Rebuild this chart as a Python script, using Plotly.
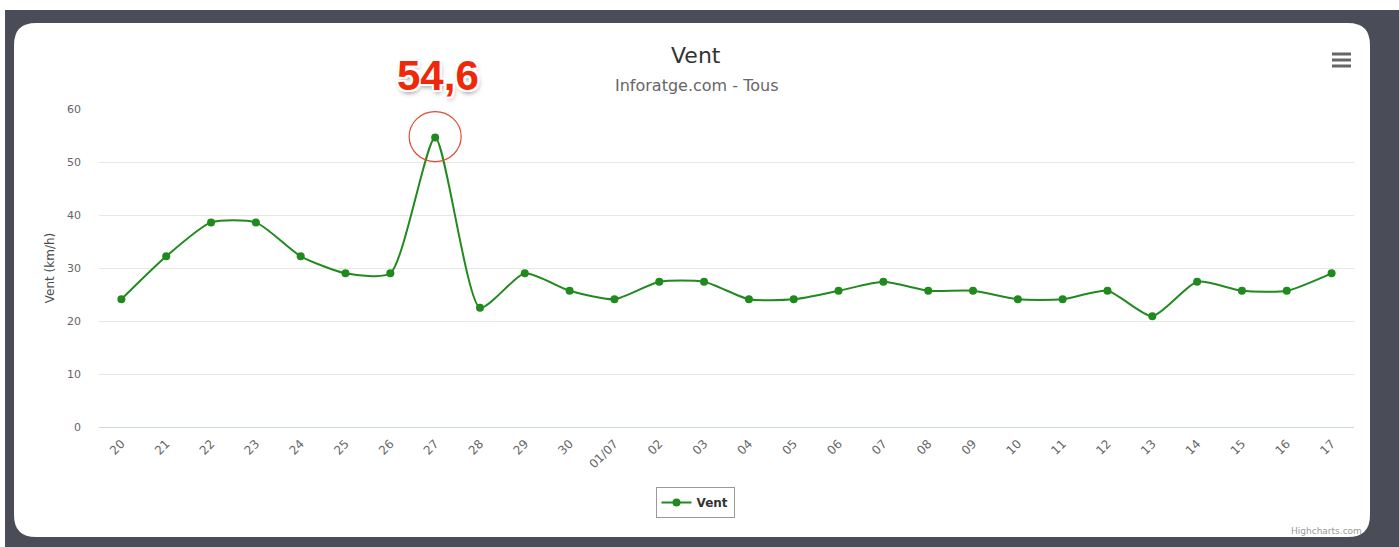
import plotly.graph_objects as go

categories = ["20", "21", "22", "23", "24", "25", "26", "27", "28", "29", "30",
              "01/07", "02", "03", "04", "05", "06", "07", "08", "09", "10",
              "11", "12", "13", "14", "15", "16", "17"]
vent = [24.1, 32.2, 38.6, 38.6, 32.2, 29.0, 29.0, 54.6, 22.5, 29.0, 25.7,
        24.1, 27.4, 27.4, 24.1, 24.1, 25.7, 27.4, 25.7, 25.7, 24.1,
        24.1, 25.7, 20.9, 27.4, 25.7, 25.7, 29.0]
y_ticks = [0, 10, 20, 30, 40, 50, 60]
peak_label = "54,6"
peak_cat = "27"
peak_val = 54.6
peak_idx = categories.index(peak_cat)

WIDTH, HEIGHT = 1399, 547
ML, MR, MT, MB = 99, 45, 109, 120
PW = WIDTH - ML - MR
PH = HEIGHT - MT - MB


def px(xpix):
    return (xpix - ML) / PW


def py(ypix):
    return (HEIGHT - MB - ypix) / PH


FONT = "DejaVu Sans, Lucida Grande, sans-serif"
GREEN = "#208a1e"

fig = go.Figure()
fig.add_trace(go.Scatter(
    x=categories, y=vent, name="Vent", mode="lines+markers",
    line=dict(color=GREEN, width=2, shape="spline", smoothing=0.6),
    marker=dict(color=GREEN, size=8),
    cliponaxis=False,
))

shapes = []
# dark frame
shapes.append(dict(type="rect", xref="paper", yref="paper", layer="below",
                   x0=px(5), x1=px(WIDTH + 5), y0=py(HEIGHT + 5), y1=py(10),
                   fillcolor="#4a4d57", line=dict(width=0)))
# white rounded card
x0, x1, yt, yb = px(14), px(1370), py(23), py(537)
rx, ry = 22 / PW, 22 / PH
path = (f"M {x0+rx},{yt} L {x1-rx},{yt} Q {x1},{yt} {x1},{yt-ry} "
        f"L {x1},{yb+ry} Q {x1},{yb} {x1-rx},{yb} "
        f"L {x0+rx},{yb} Q {x0},{yb} {x0},{yb+ry} "
        f"L {x0},{yt-ry} Q {x0},{yt} {x0+rx},{yt} Z")
shapes.append(dict(type="path", xref="paper", yref="paper", layer="below",
                   path=path, fillcolor="white", line=dict(width=0)))
# hamburger menu
for yy in (54, 60, 66):
    shapes.append(dict(type="line", xref="paper", yref="paper",
                       x0=px(1332), x1=px(1351), y0=py(yy), y1=py(yy),
                       line=dict(color="#666666", width=3)))
# circle around peak
shapes.append(dict(type="circle", xref="x", yref="y",
                   xsizemode="pixel", ysizemode="pixel",
                   xanchor=peak_idx, yanchor=peak_val,
                   x0=-26, x1=26, y0=-24, y1=26,
                   line=dict(color="#e04a30", width=1.2)))

annotations = [
    dict(text="Vent", xref="paper", yref="paper", x=px(696), y=py(55),
         xanchor="center", yanchor="middle",
         showarrow=False, font=dict(family=FONT, size=22, color="#333333")),
    dict(text="Inforatge.com - Tous", xref="paper", yref="paper", x=px(696), y=py(85),
         xanchor="center", yanchor="middle",
         showarrow=False, font=dict(family=FONT, size=16, color="#666666")),
    dict(text="Highcharts.com", xref="paper", yref="paper", x=px(1364), y=py(531),
         xanchor="right", yanchor="middle", showarrow=False,
         font=dict(family=FONT, size=9, color="#999999")),
    dict(text=peak_label, xref="x", yref="paper", x=peak_idx, y=py(75),
         xanchor="center", yanchor="middle",
         xshift=3, showarrow=False,
         font=dict(family="Liberation Sans, Arial, sans-serif", size=42,
                   color="#f0280a", weight="bold",
                   shadow="2px 0 0 #fff, -2px 0 0 #fff, 0 2px 0 #fff, 0 -2px 0 #fff, "
                          "2px 2px 0 #fff, -2px -2px 0 #fff, 2px -2px 0 #fff, -2px 2px 0 #fff, "
                          "1px 3px 5px rgba(0,0,0,0.45)")),
]

fig.update_layout(
    width=WIDTH, height=HEIGHT,
    margin=dict(l=ML, r=MR, t=MT, b=MB, autoexpand=False),
    paper_bgcolor="white", plot_bgcolor="rgba(0,0,0,0)",
    font=dict(family=FONT, color="#666666"),
    shapes=shapes, annotations=annotations,
    showlegend=True,
    legend=dict(orientation="h", x=px(695), xanchor="center", y=py(487), yanchor="top",
                bordercolor="#999999", borderwidth=1, bgcolor="white",
                font=dict(family=FONT, size=12, color="#333333", weight="bold"),
                itemwidth=30),
    xaxis=dict(type="category", categoryorder="array", categoryarray=categories,
               range=[-0.5, len(categories) - 0.5],
               showgrid=False, showline=True, linecolor="#ccd6eb", linewidth=1,
               ticks="", tickangle=-45, zeroline=False, ticklabelstandoff=4,
               tickfont=dict(family=FONT, size=12, color="#666666"),
               fixedrange=True),
    yaxis=dict(range=[0, 60], tickvals=y_ticks, showgrid=True, gridcolor="#e6e6e6",
               gridwidth=1, zeroline=False, showline=False, ticks="",
               ticklabelstandoff=17,
               tickfont=dict(family=FONT, size=11, color="#666666"),
               title=dict(text="Vent (km/h)", font=dict(family=FONT, size=12, color="#4d4d4d"),
                          standoff=9),
               fixedrange=True),
)

fig.write_html("out.html", config=dict(displayModeBar=False),
               post_script="document.body.style.margin='0px';")
